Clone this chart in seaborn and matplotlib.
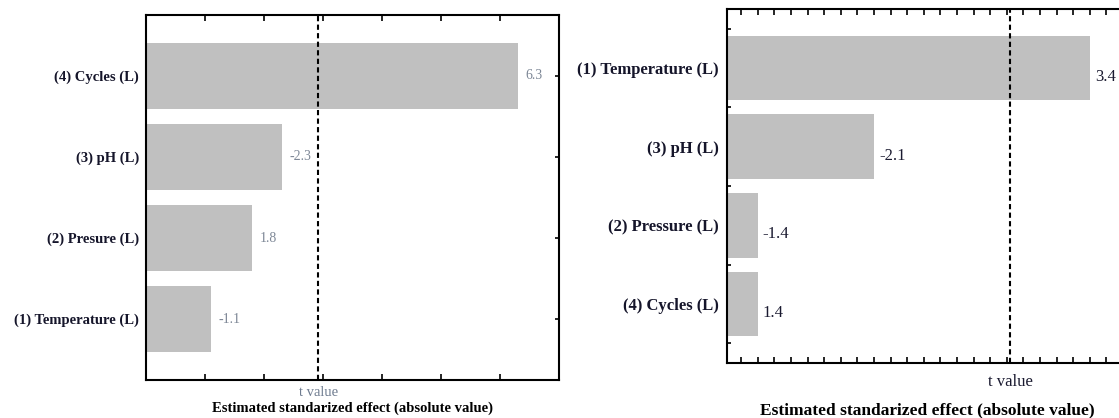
import numpy as np
import pandas as pd
import matplotlib
matplotlib.use("Agg")
import matplotlib.pyplot as plt
import seaborn as sns
from matplotlib.ticker import MultipleLocator, FixedLocator, NullFormatter

sns.set_theme(style="white")
plt.rcParams["font.family"] = ["Liberation Serif", "DejaVu Serif"]

# Pareto chart data: standardized effects of each factor
left_factors = ["(4) Cycles (L)", "(3) pH (L)", "(2) Presure (L)", "(1) Temperature (L)"]
left_effects = [6.3, -2.3, 1.8, -1.1]
left_t_crit = 2.92

right_factors = ["(1) Temperature (L)", "(3) pH (L)", "(2) Pressure (L)", "(4) Cycles (L)"]
right_effects = [3.4, -2.1, -1.4, 1.4]
right_t_crit = 2.92

W, H = 1119, 418
fig = plt.figure(figsize=(W / 100, H / 100), dpi=100)
fig.patch.set_facecolor("white")

axL = fig.add_axes([146 / W, (H - 380) / H, 413 / W, 365 / H])
axR = fig.add_axes([727 / W, (H - 363) / H, 401 / W, 354 / H])

BAR = "#c0c0c0"


def pareto(ax, factors, effects, tcrit, xlim, *, ylab_size, val_size, val_color,
           tval_color, tval_size, tval_off, xlab_size, xlab_off, val_dx, val_dy):
    df = pd.DataFrame({"factor": factors, "effect": effects})
    df["size"] = df["effect"].abs()
    sns.barplot(data=df, x="size", y="factor", orient="h", color=BAR,
                saturation=1, width=0.82, linewidth=0, ax=ax)
    ax.set_xlim(*xlim)
    ax.set_ylim(3.75, -0.75)
    ax.set_ylabel("")
    ax.axvline(tcrit, color="black", lw=1.5, ls=(0, (2.5, 1.6)), zorder=3)

    for i, e in enumerate(df["effect"]):
        ax.annotate(f"{e:.1f}", xy=(abs(e), i), xytext=(val_dx, -val_dy),
                    textcoords="offset pixels", ha="left", va="center",
                    fontsize=val_size, color=val_color, annotation_clip=False)

    ax.annotate("t value", xy=(tcrit, 0), xycoords=ax.get_xaxis_transform(),
                xytext=(0, -tval_off), textcoords="offset pixels",
                ha="center", va="center", fontsize=tval_size, color=tval_color,
                annotation_clip=False)

    ax.set_xlabel("Estimated standarized effect (absolute value)",
                  fontsize=xlab_size, fontweight="bold", color="black")
    ax.xaxis.label.set_va("center")
    bbox = ax.get_position()
    ax.xaxis.set_label_coords(0.5, -xlab_off / (bbox.height * H))

    for lab in ax.get_yticklabels():
        lab.set_fontweight("bold")
        lab.set_fontsize(ylab_size)
        lab.set_color("#15152a")

    for sp in ax.spines.values():
        sp.set_visible(True)
        sp.set_color("black")
        sp.set_linewidth(1.5)
    ax.xaxis.set_major_formatter(NullFormatter())
    ax.set_facecolor("white")


pareto(axL, left_factors, left_effects, left_t_crit, (0, 7),
       ylab_size=10.5, val_size=10, val_color="#7d8796",
       tval_color="#6f7c90", tval_size=10.5, tval_off=13,
       xlab_size=10.5, xlab_off=28, val_dx=8, val_dy=0)
axL.xaxis.set_major_locator(MultipleLocator(1))
axL.tick_params(axis="x", which="major", direction="in", length=4, width=1.2,
                top=True, bottom=True, colors="black")
axL.tick_params(axis="y", which="major", direction="in", length=3, width=1.2,
                left=True, right=True, pad=5, colors="black")
for lab in axL.get_yticklabels():
    lab.set_color("#15152a")

pareto(axR, right_factors, right_effects, right_t_crit, (1.215, 3.63),
       ylab_size=12, val_size=12, val_color="#1a1a30",
       tval_color="#1a1a30", tval_size=12, tval_off=19,
       xlab_size=12.5, xlab_off=47, val_dx=5, val_dy=9)
axR.xaxis.set_major_locator(MultipleLocator(0.1))
axR.yaxis.set_minor_locator(MultipleLocator(0.25))
axR.tick_params(axis="x", which="major", direction="in", length=4, width=1.2,
                top=True, bottom=True, colors="black")
axR.tick_params(axis="y", which="both", direction="in", length=3, width=1.2,
                left=True, right=False, pad=6, colors="black")
for lab in axR.get_yticklabels():
    lab.set_color("#15152a")

fig.savefig("out.png", dpi=100, facecolor="white")
